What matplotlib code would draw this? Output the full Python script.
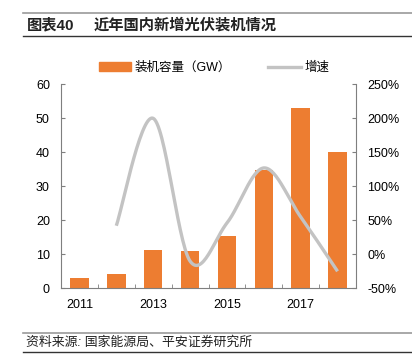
import numpy as np
import matplotlib
matplotlib.use("Agg")
import matplotlib.pyplot as plt
from matplotlib.lines import Line2D
from matplotlib.patches import Patch

plt.rcParams['font.family'] = ['Liberation Sans', 'Noto Sans CJK SC', 'DejaVu Sans']

# DATA-----------------------------------------------------------------
years = [2011, 2012, 2013, 2014, 2015, 2016, 2017, 2018]
capacity = [2.9, 4.2, 11.3, 10.9, 15.4, 34.8, 53.1, 40.2]
growth_years = [2012, 2013, 2014, 2015, 2016, 2017, 2018]
growth = [42, 200, -10, 46, 127, 55, -25]
year_labels = ['2011', '2013', '2015', '2017']

BAR_COLOR = '#ED7D31'
LINE_COLOR = '#C3C3C3'
AXIS_COLOR = '#7F7F7F'


# smooth curve like Excel's "smoothed line" (Catmull-Rom)
def smoothCurve(xs, ys, steps=30):
    pts = np.column_stack([xs, ys]).astype(float)
    pts = np.vstack([pts[0], pts, pts[-1]])
    out = []
    for i in range(1, len(pts) - 2):
        p0, p1, p2, p3 = pts[i - 1], pts[i], pts[i + 1], pts[i + 2]
        for t in np.linspace(0, 1, steps, endpoint=False):
            t2, t3 = t * t, t * t * t
            out.append(0.5 * ((2 * p1) + (-p0 + p2) * t +
                              (2 * p0 - 5 * p1 + 4 * p2 - p3) * t2 +
                              (-p0 + 3 * p1 - 3 * p2 + p3) * t3))
    out.append(pts[-2])
    out = np.array(out)
    return out[:, 0], out[:, 1]


fig = plt.figure(figsize=(4.12, 3.64), dpi=100)

# header / footer rules
fig.add_artist(Line2D([23 / 412, 1], [1 - 13 / 364] * 2, color='#9A9A9A', lw=1.2))
fig.add_artist(Line2D([23 / 412, 1], [1 - 36 / 364] * 2, color='#333333', lw=1.0))
fig.add_artist(Line2D([23 / 412, 1], [1 - 333 / 364] * 2, color='#9A9A9A', lw=1.2))
fig.add_artist(Line2D([23 / 412, 1], [1 - 352 / 364] * 2, color='#333333', lw=1.0))
fig.text(27 / 412, 1 - 25 / 364, '图表40', fontsize=11, fontweight='bold',
         va='center', ha='left', color='#222222')
fig.text(94 / 412, 1 - 25 / 364, '近年国内新增光伏装机情况', fontsize=11,
         fontweight='bold', va='center', ha='left', color='#222222')
fig.text(26 / 412, 1 - 343 / 364, '资料来源: 国家能源局、平安证券研究所', fontsize=9.3,
         va='center', ha='left', color='#222222', style='italic')

ax = fig.add_axes([61 / 412, 1 - 288.3 / 364, 295 / 412, 204 / 364])
x = np.arange(len(years))
ax.bar(x, capacity, width=0.5, color=BAR_COLOR, zorder=2)
ax.set_xlim(-0.5, len(years) - 0.5)
ax.set_ylim(0, 60)
ax.set_yticks(range(0, 61, 10))
ax.set_xticks([years.index(int(y)) for y in year_labels])
ax.set_xticklabels(year_labels)
ax.set_xticks(np.arange(0.5, len(years) - 0.5, 1), minor=True)
ax.tick_params(axis='x', which='major', length=0, labelsize=9, pad=8)
ax.tick_params(axis='x', which='minor', length=3, direction='in', color=AXIS_COLOR)
ax.tick_params(axis='y', length=3, direction='in', labelsize=9, color=AXIS_COLOR, pad=8)
ax.spines['top'].set_visible(False)
ax.spines['right'].set_visible(False)
for s in ['left', 'bottom']:
    ax.spines[s].set_color(AXIS_COLOR)
    ax.spines[s].set_linewidth(0.8)

ax2 = ax.twinx()
gx = [years.index(y) for y in growth_years]
sx, sy = smoothCurve(gx, growth)
ax2.plot(sx, sy, color=LINE_COLOR, lw=2.4, solid_capstyle='butt', zorder=3)
ax2.set_ylim(-50, 250)
ax2.set_yticks(range(-50, 251, 50))
ax2.set_yticklabels([f'{v}%' for v in range(-50, 251, 50)])
ax2.tick_params(axis='y', length=3, direction='in', labelsize=9, color=AXIS_COLOR, pad=8)
for s in ['top', 'left', 'bottom']:
    ax2.spines[s].set_visible(False)
ax2.spines['right'].set_color(AXIS_COLOR)
ax2.spines['right'].set_linewidth(0.8)

handles = [Patch(color=BAR_COLOR), Line2D([0], [0], color=LINE_COLOR, lw=2.4)]
fig.legend(handles, ['装机容量（GW）', '增速'], loc='center', ncol=2, frameon=False,
           bbox_to_anchor=(214 / 412, 1 - 68 / 364), fontsize=9, handlelength=2.6,
           handleheight=0.7, columnspacing=3.0, handletextpad=0.25)

fig.savefig('out.png', dpi=100)
